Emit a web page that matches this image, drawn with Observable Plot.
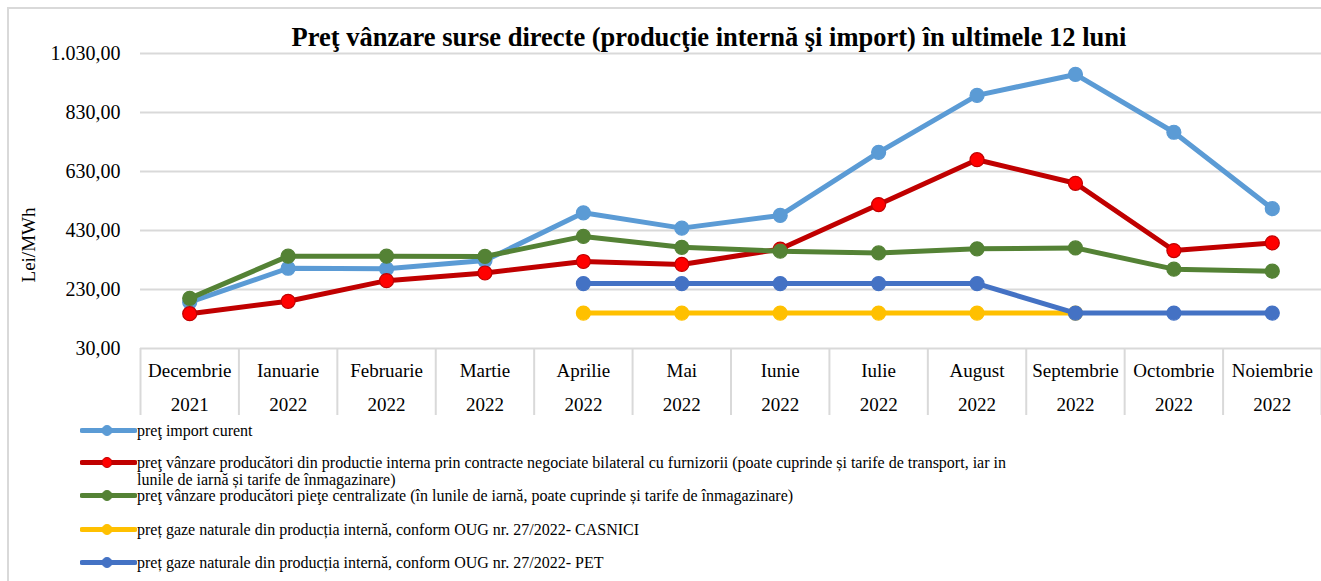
<!DOCTYPE html>
<html>
<head>
<meta charset="utf-8">
<script src="https://cdn.jsdelivr.net/npm/d3@7"></script>
<script src="https://cdn.jsdelivr.net/npm/@observablehq/plot@0.6"></script>
<style>
  html, body { margin: 0; padding: 0; background: #fff; }
  #wrap { position: relative; width: 1321px; height: 581px; overflow: hidden; font-family: "Liberation Serif", "Times New Roman", serif; color: #000; }
  #frame { position: absolute; left: 7px; top: 7px; width: 1340px; height: 600px; border: 2px solid #d9d9d9; box-sizing: border-box; }
  #title { position: absolute; left: 0; width: 1418px; top: 24px; text-align: center; font-size: 26.5px; font-weight: bold; line-height: 26px; white-space: nowrap; }
  #ylab { position: absolute; left: 29px; top: 245px; transform: translate(-50%, -50%) rotate(-90deg); font-size: 19px; white-space: nowrap; }
  #chart { position: absolute; left: 0; top: 0; }
  #chart svg, #chart svg g, #chart svg text, #chart svg tspan { font-family: "Liberation Serif", "Times New Roman", serif !important; }
  .leg { position: absolute; left: 80px; font-size: 16px; line-height: 17px; }
  .leg svg { position: absolute; left: 0; top: 0; }
  .leg span { position: absolute; left: 57px; top: 0; white-space: nowrap; }
</style>
</head>
<body>
<div id="wrap">
  <div id="frame"></div>
  <div id="chart"></div>
  <div id="title">Preţ vânzare surse directe (producţie internă şi import) în ultimele 12 luni</div>
  <div id="ylab">Lei/MWh</div>
  <div id="legend"></div>
</div>
<script>
const months = ["Decembrie", "Ianuarie", "Februarie", "Martie", "Aprilie", "Mai", "Iunie", "Iulie", "August", "Septembrie", "Octombrie", "Noiembrie"];
const years = ["2021", "2022", "2022", "2022", "2022", "2022", "2022", "2022", "2022", "2022", "2022", "2022"];
const yTicks = [30, 230, 430, 630, 830, 1030];

const importCurent = [187, 302, 300, 328, 490, 438, 481, 695, 888, 959, 763, 504];
const bilateral = [148, 190, 260, 286, 325, 315, 367, 518, 670, 590, 362, 388];
const centralizate = [200, 343, 343, 342, 410, 373, 360, 354, 368, 371, 299, 292];
const casnici = [null, null, null, null, 150, 150, 150, 150, 150, 150, null, null];
const pet = [null, null, null, null, 250, 250, 250, 250, 250, 150, 150, 150];

const seriesNames = [
  "preţ import curent",
  "preţ vânzare producători din productie interna prin contracte negociate bilateral cu furnizorii (poate cuprinde și tarife de transport, iar in\nlunile de iarnă și tarife de înmagazinare)",
  "preţ vânzare producători pieţe centralizate (în lunile de iarnă, poate cuprinde și tarife de înmagazinare)",
  "preț gaze naturale din producția internă, conform OUG nr. 27/2022- CASNICI",
  "preț gaze naturale din producția internă, conform OUG nr. 27/2022- PET"
];
const seriesValues = [importCurent, bilateral, centralizate, casnici, pet];
const lineColors = ["#5B9BD5", "#C00000", "#548235", "#FFC000", "#4472C4"];
const dotFills = ["#5B9BD5", "#FF0000", "#548235", "#FFC000", "#4472C4"];

const ro = d3.formatLocale({decimal: ",", thousands: ".", grouping: [3], currency: ["", ""]});
const fmt = ro.format(",.2f");
const serif = "'Liberation Serif', 'Times New Roman', serif";

const marks = [
  Plot.gridY(yTicks, {stroke: "#d9d9d9", strokeOpacity: 1, strokeWidth: 2}),
  Plot.axisY({ticks: yTicks, tickFormat: fmt, tickSize: 0, tickPadding: 20, fontSize: 20, fontFamily: serif, label: null}),
  Plot.axisX({ticks: d3.range(13), tickSize: 67, tickFormat: () => "", stroke: "#d9d9d9", strokeWidth: 2, label: null}),
  Plot.text(months, {x: (d, i) => i + 0.5, frameAnchor: "bottom", dy: 4, lineAnchor: "top", lineHeight: 1.79, fontSize: 19, fontFamily: serif, text: (d, i) => d + "\n" + years[i]})
];

seriesValues.forEach((vals, s) => {
  const rows = vals.map((v, i) => ({i, v})).filter(d => d.v != null);
  marks.push(Plot.line(rows, {x: d => d.i + 0.5, y: "v", stroke: lineColors[s], strokeWidth: 5, strokeLinejoin: "round", strokeLinecap: "round"}));
  marks.push(Plot.dot(rows, {x: d => d.i + 0.5, y: "v", r: 7, fill: dotFills[s], stroke: lineColors[s], strokeWidth: 1.2}));
});

const plot = Plot.plot({
  width: 1321,
  height: 420,
  marginTop: 53,
  marginBottom: 72,
  marginLeft: 140,
  marginRight: 0,
  x: {domain: [0, 12], axis: null},
  y: {domain: [30, 1030], axis: null},
  style: {background: "none", fontFamily: serif, color: "#000", overflow: "visible"},
  marks
});
document.getElementById("chart").appendChild(plot);

// legend
const legTops = [422, 454, 487, 521, 554];
const legend = document.getElementById("legend");
seriesNames.forEach((name, s) => {
  const item = document.createElement("div");
  item.className = "leg";
  item.style.top = legTops[s] + "px";
  const ns = "http://www.w3.org/2000/svg";
  const svg = document.createElementNS(ns, "svg");
  svg.setAttribute("width", 57);
  svg.setAttribute("height", 17);
  const ln = document.createElementNS(ns, "line");
  ln.setAttribute("x1", 2); ln.setAttribute("x2", 55); ln.setAttribute("y1", 8.5); ln.setAttribute("y2", 8.5);
  ln.setAttribute("stroke", lineColors[s]); ln.setAttribute("stroke-width", 5); ln.setAttribute("stroke-linecap", "round");
  const c = document.createElementNS(ns, "circle");
  c.setAttribute("cx", 27); c.setAttribute("cy", 8.5); c.setAttribute("r", 5);
  c.setAttribute("fill", dotFills[s]); c.setAttribute("stroke", lineColors[s]); c.setAttribute("stroke-width", 1);
  svg.appendChild(ln); svg.appendChild(c);
  item.appendChild(svg);
  const span = document.createElement("span");
  name.split("\n").forEach((t, k) => {
    if (k) span.appendChild(document.createElement("br"));
    span.appendChild(document.createTextNode(t));
  });
  item.appendChild(span);
  legend.appendChild(item);
});
</script>
</body>
</html>
